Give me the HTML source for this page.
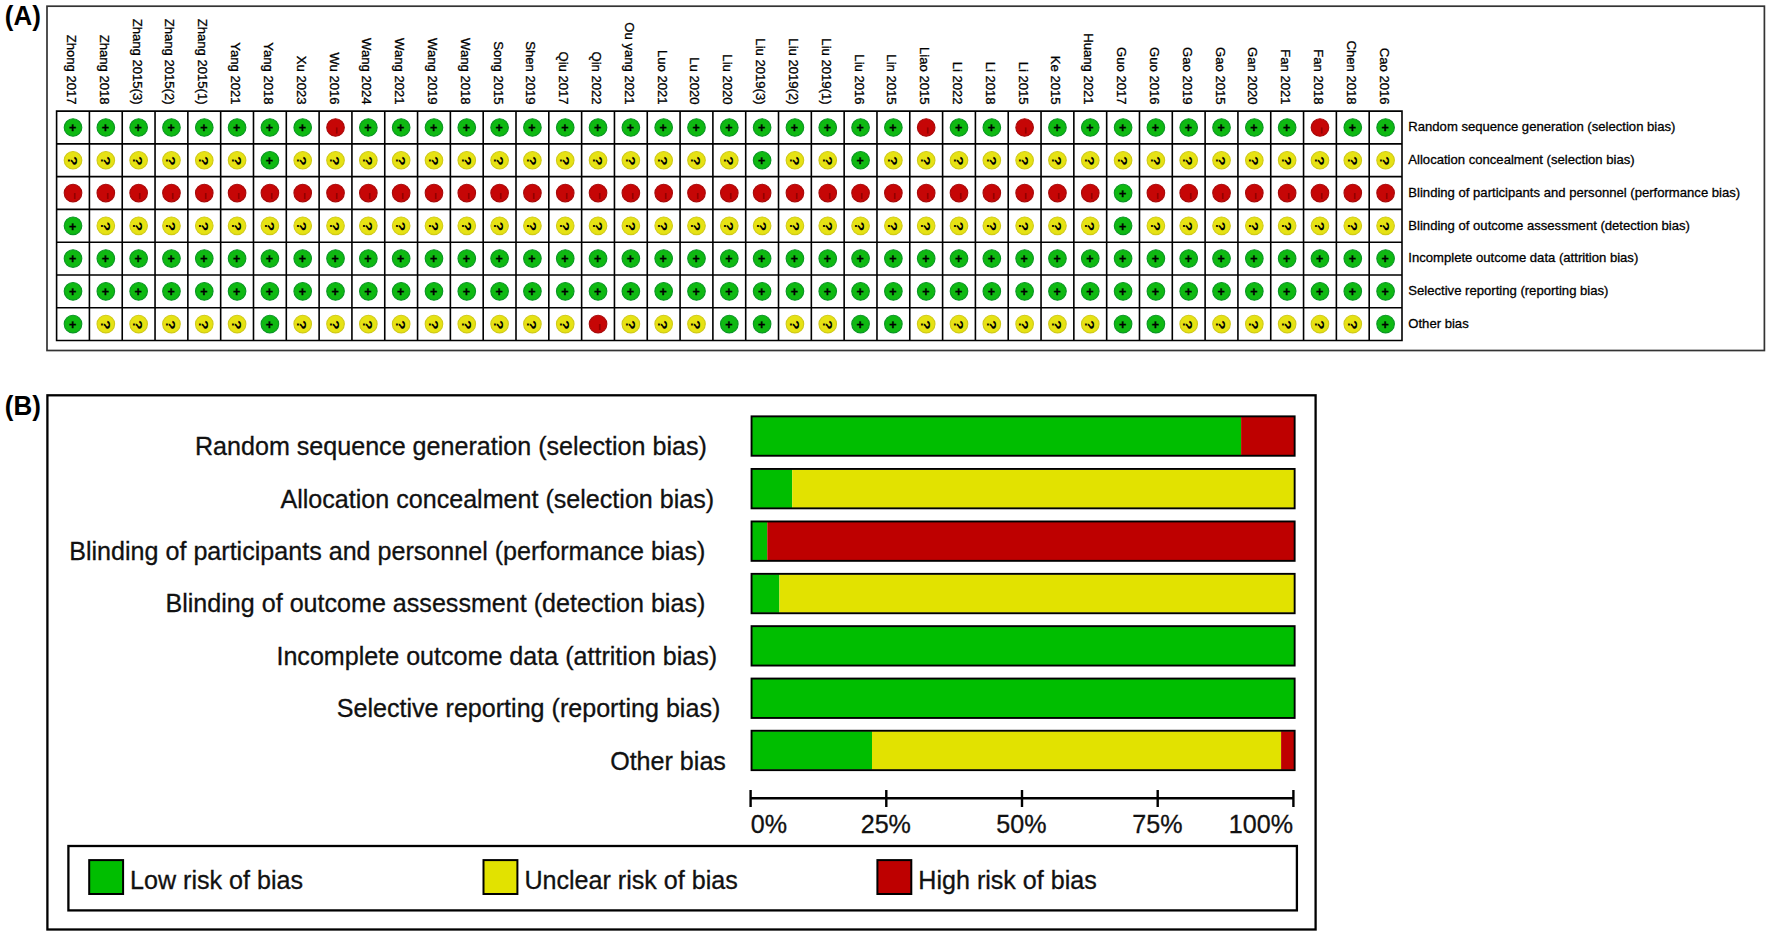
<!DOCTYPE html>
<html lang="en"><head><meta charset="utf-8"><title>Risk of bias</title>
<style>
html,body{margin:0;padding:0;background:#fff;}
body{width:1772px;height:937px;overflow:hidden;}
svg{display:block;font-family:'Liberation Sans', Arial, Helvetica, sans-serif;}
.s{font-size:13.1px;fill:#000;stroke:#000;stroke-width:0.3px;}
.d{font-size:13.1px;fill:#000;stroke:#000;stroke-width:0.3px;}
.pl{font-size:27.1px;font-weight:bold;fill:#000;}
.b{font-size:25.1px;fill:#111;stroke:#111;stroke-width:0.3px;}
.m{font-size:10px;font-weight:normal;fill:#8c0000;stroke:#8c0000;stroke-width:0.5px;}
.sym{font-size:14px;font-weight:bold;fill:#000;stroke:#000;stroke-width:0.15px;text-anchor:middle;}
.p{font-size:12.5px;stroke-width:0.3px;}
.q{font-size:13.5px;stroke-width:0;}
</style></head><body>
<svg width="1772" height="937" viewBox="0 0 1772 937">
<rect x="0" y="0" width="1772" height="937" fill="#fff"/>
<text class="pl" x="4.8" y="24.9" textLength="36.1" lengthAdjust="spacingAndGlyphs">(A)</text>
<text class="pl" x="4.8" y="414.7" textLength="36.1" lengthAdjust="spacingAndGlyphs">(B)</text>
<rect x="47.0" y="6.2" width="1717.4" height="344.3" fill="none" stroke="#333" stroke-width="1.7"/>
<g class="s">
<text transform="translate(67.01,104.6) rotate(90)" text-anchor="end">Zhong 2017</text>
<text transform="translate(99.82,104.6) rotate(90)" text-anchor="end">Zhang 2018</text>
<text transform="translate(132.64,104.6) rotate(90)" text-anchor="end">Zhang 2015(3)</text>
<text transform="translate(165.45,104.6) rotate(90)" text-anchor="end">Zhang 2015(2)</text>
<text transform="translate(198.27,104.6) rotate(90)" text-anchor="end">Zhang 2015(1)</text>
<text transform="translate(231.08,104.6) rotate(90)" text-anchor="end">Yang 2021</text>
<text transform="translate(263.90,104.6) rotate(90)" text-anchor="end">Yang 2018</text>
<text transform="translate(296.71,104.6) rotate(90)" text-anchor="end">Xu 2023</text>
<text transform="translate(329.52,104.6) rotate(90)" text-anchor="end">Wu 2016</text>
<text transform="translate(362.34,104.6) rotate(90)" text-anchor="end">Wang 2024</text>
<text transform="translate(395.15,104.6) rotate(90)" text-anchor="end">Wang 2021</text>
<text transform="translate(427.97,104.6) rotate(90)" text-anchor="end">Wang 2019</text>
<text transform="translate(460.78,104.6) rotate(90)" text-anchor="end">Wang 2018</text>
<text transform="translate(493.60,104.6) rotate(90)" text-anchor="end">Song 2015</text>
<text transform="translate(526.41,104.6) rotate(90)" text-anchor="end">Shen 2019</text>
<text transform="translate(559.23,104.6) rotate(90)" text-anchor="end">Qiu 2017</text>
<text transform="translate(592.04,104.6) rotate(90)" text-anchor="end">Qin 2022</text>
<text transform="translate(624.86,104.6) rotate(90)" text-anchor="end">Ou yang 2021</text>
<text transform="translate(657.67,104.6) rotate(90)" text-anchor="end">Luo 2021</text>
<text transform="translate(690.49,104.6) rotate(90)" text-anchor="end">Lu 2020</text>
<text transform="translate(723.30,104.6) rotate(90)" text-anchor="end">Liu 2020</text>
<text transform="translate(756.11,104.6) rotate(90)" text-anchor="end">Liu 2019(3)</text>
<text transform="translate(788.93,104.6) rotate(90)" text-anchor="end">Liu 2019(2)</text>
<text transform="translate(821.74,104.6) rotate(90)" text-anchor="end">Liu 2019(1)</text>
<text transform="translate(854.56,104.6) rotate(90)" text-anchor="end">Liu 2016</text>
<text transform="translate(887.37,104.6) rotate(90)" text-anchor="end">Lin 2015</text>
<text transform="translate(920.19,104.6) rotate(90)" text-anchor="end">Liao 2015</text>
<text transform="translate(953.00,104.6) rotate(90)" text-anchor="end">Li 2022</text>
<text transform="translate(985.82,104.6) rotate(90)" text-anchor="end">Li 2018</text>
<text transform="translate(1018.63,104.6) rotate(90)" text-anchor="end">Li 2015</text>
<text transform="translate(1051.45,104.6) rotate(90)" text-anchor="end">Ke 2015</text>
<text transform="translate(1084.26,104.6) rotate(90)" text-anchor="end">Huang 2021</text>
<text transform="translate(1117.08,104.6) rotate(90)" text-anchor="end">Guo 2017</text>
<text transform="translate(1149.89,104.6) rotate(90)" text-anchor="end">Guo 2016</text>
<text transform="translate(1182.70,104.6) rotate(90)" text-anchor="end">Gao 2019</text>
<text transform="translate(1215.52,104.6) rotate(90)" text-anchor="end">Gao 2015</text>
<text transform="translate(1248.33,104.6) rotate(90)" text-anchor="end">Gan 2020</text>
<text transform="translate(1281.15,104.6) rotate(90)" text-anchor="end">Fan 2021</text>
<text transform="translate(1313.96,104.6) rotate(90)" text-anchor="end">Fan 2018</text>
<text transform="translate(1346.78,104.6) rotate(90)" text-anchor="end">Chen 2018</text>
<text transform="translate(1379.59,104.6) rotate(90)" text-anchor="end">Cao 2016</text>
</g>
<g>
<circle cx="73.01" cy="127.49" r="8.8" fill="#0fb912" stroke="#0a9624" stroke-width="1.1"/>
<circle cx="105.82" cy="127.49" r="8.8" fill="#0fb912" stroke="#0a9624" stroke-width="1.1"/>
<circle cx="138.64" cy="127.49" r="8.8" fill="#0fb912" stroke="#0a9624" stroke-width="1.1"/>
<circle cx="171.45" cy="127.49" r="8.8" fill="#0fb912" stroke="#0a9624" stroke-width="1.1"/>
<circle cx="204.27" cy="127.49" r="8.8" fill="#0fb912" stroke="#0a9624" stroke-width="1.1"/>
<circle cx="237.08" cy="127.49" r="8.8" fill="#0fb912" stroke="#0a9624" stroke-width="1.1"/>
<circle cx="269.90" cy="127.49" r="8.8" fill="#0fb912" stroke="#0a9624" stroke-width="1.1"/>
<circle cx="302.71" cy="127.49" r="8.8" fill="#0fb912" stroke="#0a9624" stroke-width="1.1"/>
<circle cx="335.52" cy="127.49" r="8.8" fill="#c60606" stroke="#a80a0a" stroke-width="1.1"/>
<circle cx="368.34" cy="127.49" r="8.8" fill="#0fb912" stroke="#0a9624" stroke-width="1.1"/>
<circle cx="401.15" cy="127.49" r="8.8" fill="#0fb912" stroke="#0a9624" stroke-width="1.1"/>
<circle cx="433.97" cy="127.49" r="8.8" fill="#0fb912" stroke="#0a9624" stroke-width="1.1"/>
<circle cx="466.78" cy="127.49" r="8.8" fill="#0fb912" stroke="#0a9624" stroke-width="1.1"/>
<circle cx="499.60" cy="127.49" r="8.8" fill="#0fb912" stroke="#0a9624" stroke-width="1.1"/>
<circle cx="532.41" cy="127.49" r="8.8" fill="#0fb912" stroke="#0a9624" stroke-width="1.1"/>
<circle cx="565.23" cy="127.49" r="8.8" fill="#0fb912" stroke="#0a9624" stroke-width="1.1"/>
<circle cx="598.04" cy="127.49" r="8.8" fill="#0fb912" stroke="#0a9624" stroke-width="1.1"/>
<circle cx="630.86" cy="127.49" r="8.8" fill="#0fb912" stroke="#0a9624" stroke-width="1.1"/>
<circle cx="663.67" cy="127.49" r="8.8" fill="#0fb912" stroke="#0a9624" stroke-width="1.1"/>
<circle cx="696.49" cy="127.49" r="8.8" fill="#0fb912" stroke="#0a9624" stroke-width="1.1"/>
<circle cx="729.30" cy="127.49" r="8.8" fill="#0fb912" stroke="#0a9624" stroke-width="1.1"/>
<circle cx="762.11" cy="127.49" r="8.8" fill="#0fb912" stroke="#0a9624" stroke-width="1.1"/>
<circle cx="794.93" cy="127.49" r="8.8" fill="#0fb912" stroke="#0a9624" stroke-width="1.1"/>
<circle cx="827.74" cy="127.49" r="8.8" fill="#0fb912" stroke="#0a9624" stroke-width="1.1"/>
<circle cx="860.56" cy="127.49" r="8.8" fill="#0fb912" stroke="#0a9624" stroke-width="1.1"/>
<circle cx="893.37" cy="127.49" r="8.8" fill="#0fb912" stroke="#0a9624" stroke-width="1.1"/>
<circle cx="926.19" cy="127.49" r="8.8" fill="#c60606" stroke="#a80a0a" stroke-width="1.1"/>
<circle cx="959.00" cy="127.49" r="8.8" fill="#0fb912" stroke="#0a9624" stroke-width="1.1"/>
<circle cx="991.82" cy="127.49" r="8.8" fill="#0fb912" stroke="#0a9624" stroke-width="1.1"/>
<circle cx="1024.63" cy="127.49" r="8.8" fill="#c60606" stroke="#a80a0a" stroke-width="1.1"/>
<circle cx="1057.45" cy="127.49" r="8.8" fill="#0fb912" stroke="#0a9624" stroke-width="1.1"/>
<circle cx="1090.26" cy="127.49" r="8.8" fill="#0fb912" stroke="#0a9624" stroke-width="1.1"/>
<circle cx="1123.08" cy="127.49" r="8.8" fill="#0fb912" stroke="#0a9624" stroke-width="1.1"/>
<circle cx="1155.89" cy="127.49" r="8.8" fill="#0fb912" stroke="#0a9624" stroke-width="1.1"/>
<circle cx="1188.70" cy="127.49" r="8.8" fill="#0fb912" stroke="#0a9624" stroke-width="1.1"/>
<circle cx="1221.52" cy="127.49" r="8.8" fill="#0fb912" stroke="#0a9624" stroke-width="1.1"/>
<circle cx="1254.33" cy="127.49" r="8.8" fill="#0fb912" stroke="#0a9624" stroke-width="1.1"/>
<circle cx="1287.15" cy="127.49" r="8.8" fill="#0fb912" stroke="#0a9624" stroke-width="1.1"/>
<circle cx="1319.96" cy="127.49" r="8.8" fill="#c60606" stroke="#a80a0a" stroke-width="1.1"/>
<circle cx="1352.78" cy="127.49" r="8.8" fill="#0fb912" stroke="#0a9624" stroke-width="1.1"/>
<circle cx="1385.59" cy="127.49" r="8.8" fill="#0fb912" stroke="#0a9624" stroke-width="1.1"/>
<circle cx="73.01" cy="160.26" r="8.8" fill="#e6e214" stroke="#d0ca18" stroke-width="1.1"/>
<circle cx="105.82" cy="160.26" r="8.8" fill="#e6e214" stroke="#d0ca18" stroke-width="1.1"/>
<circle cx="138.64" cy="160.26" r="8.8" fill="#e6e214" stroke="#d0ca18" stroke-width="1.1"/>
<circle cx="171.45" cy="160.26" r="8.8" fill="#e6e214" stroke="#d0ca18" stroke-width="1.1"/>
<circle cx="204.27" cy="160.26" r="8.8" fill="#e6e214" stroke="#d0ca18" stroke-width="1.1"/>
<circle cx="237.08" cy="160.26" r="8.8" fill="#e6e214" stroke="#d0ca18" stroke-width="1.1"/>
<circle cx="269.90" cy="160.26" r="8.8" fill="#0fb912" stroke="#0a9624" stroke-width="1.1"/>
<circle cx="302.71" cy="160.26" r="8.8" fill="#e6e214" stroke="#d0ca18" stroke-width="1.1"/>
<circle cx="335.52" cy="160.26" r="8.8" fill="#e6e214" stroke="#d0ca18" stroke-width="1.1"/>
<circle cx="368.34" cy="160.26" r="8.8" fill="#e6e214" stroke="#d0ca18" stroke-width="1.1"/>
<circle cx="401.15" cy="160.26" r="8.8" fill="#e6e214" stroke="#d0ca18" stroke-width="1.1"/>
<circle cx="433.97" cy="160.26" r="8.8" fill="#e6e214" stroke="#d0ca18" stroke-width="1.1"/>
<circle cx="466.78" cy="160.26" r="8.8" fill="#e6e214" stroke="#d0ca18" stroke-width="1.1"/>
<circle cx="499.60" cy="160.26" r="8.8" fill="#e6e214" stroke="#d0ca18" stroke-width="1.1"/>
<circle cx="532.41" cy="160.26" r="8.8" fill="#e6e214" stroke="#d0ca18" stroke-width="1.1"/>
<circle cx="565.23" cy="160.26" r="8.8" fill="#e6e214" stroke="#d0ca18" stroke-width="1.1"/>
<circle cx="598.04" cy="160.26" r="8.8" fill="#e6e214" stroke="#d0ca18" stroke-width="1.1"/>
<circle cx="630.86" cy="160.26" r="8.8" fill="#e6e214" stroke="#d0ca18" stroke-width="1.1"/>
<circle cx="663.67" cy="160.26" r="8.8" fill="#e6e214" stroke="#d0ca18" stroke-width="1.1"/>
<circle cx="696.49" cy="160.26" r="8.8" fill="#e6e214" stroke="#d0ca18" stroke-width="1.1"/>
<circle cx="729.30" cy="160.26" r="8.8" fill="#e6e214" stroke="#d0ca18" stroke-width="1.1"/>
<circle cx="762.11" cy="160.26" r="8.8" fill="#0fb912" stroke="#0a9624" stroke-width="1.1"/>
<circle cx="794.93" cy="160.26" r="8.8" fill="#e6e214" stroke="#d0ca18" stroke-width="1.1"/>
<circle cx="827.74" cy="160.26" r="8.8" fill="#e6e214" stroke="#d0ca18" stroke-width="1.1"/>
<circle cx="860.56" cy="160.26" r="8.8" fill="#0fb912" stroke="#0a9624" stroke-width="1.1"/>
<circle cx="893.37" cy="160.26" r="8.8" fill="#e6e214" stroke="#d0ca18" stroke-width="1.1"/>
<circle cx="926.19" cy="160.26" r="8.8" fill="#e6e214" stroke="#d0ca18" stroke-width="1.1"/>
<circle cx="959.00" cy="160.26" r="8.8" fill="#e6e214" stroke="#d0ca18" stroke-width="1.1"/>
<circle cx="991.82" cy="160.26" r="8.8" fill="#e6e214" stroke="#d0ca18" stroke-width="1.1"/>
<circle cx="1024.63" cy="160.26" r="8.8" fill="#e6e214" stroke="#d0ca18" stroke-width="1.1"/>
<circle cx="1057.45" cy="160.26" r="8.8" fill="#e6e214" stroke="#d0ca18" stroke-width="1.1"/>
<circle cx="1090.26" cy="160.26" r="8.8" fill="#e6e214" stroke="#d0ca18" stroke-width="1.1"/>
<circle cx="1123.08" cy="160.26" r="8.8" fill="#e6e214" stroke="#d0ca18" stroke-width="1.1"/>
<circle cx="1155.89" cy="160.26" r="8.8" fill="#e6e214" stroke="#d0ca18" stroke-width="1.1"/>
<circle cx="1188.70" cy="160.26" r="8.8" fill="#e6e214" stroke="#d0ca18" stroke-width="1.1"/>
<circle cx="1221.52" cy="160.26" r="8.8" fill="#e6e214" stroke="#d0ca18" stroke-width="1.1"/>
<circle cx="1254.33" cy="160.26" r="8.8" fill="#e6e214" stroke="#d0ca18" stroke-width="1.1"/>
<circle cx="1287.15" cy="160.26" r="8.8" fill="#e6e214" stroke="#d0ca18" stroke-width="1.1"/>
<circle cx="1319.96" cy="160.26" r="8.8" fill="#e6e214" stroke="#d0ca18" stroke-width="1.1"/>
<circle cx="1352.78" cy="160.26" r="8.8" fill="#e6e214" stroke="#d0ca18" stroke-width="1.1"/>
<circle cx="1385.59" cy="160.26" r="8.8" fill="#e6e214" stroke="#d0ca18" stroke-width="1.1"/>
<circle cx="73.01" cy="193.03" r="8.8" fill="#c60606" stroke="#a80a0a" stroke-width="1.1"/>
<circle cx="105.82" cy="193.03" r="8.8" fill="#c60606" stroke="#a80a0a" stroke-width="1.1"/>
<circle cx="138.64" cy="193.03" r="8.8" fill="#c60606" stroke="#a80a0a" stroke-width="1.1"/>
<circle cx="171.45" cy="193.03" r="8.8" fill="#c60606" stroke="#a80a0a" stroke-width="1.1"/>
<circle cx="204.27" cy="193.03" r="8.8" fill="#c60606" stroke="#a80a0a" stroke-width="1.1"/>
<circle cx="237.08" cy="193.03" r="8.8" fill="#c60606" stroke="#a80a0a" stroke-width="1.1"/>
<circle cx="269.90" cy="193.03" r="8.8" fill="#c60606" stroke="#a80a0a" stroke-width="1.1"/>
<circle cx="302.71" cy="193.03" r="8.8" fill="#c60606" stroke="#a80a0a" stroke-width="1.1"/>
<circle cx="335.52" cy="193.03" r="8.8" fill="#c60606" stroke="#a80a0a" stroke-width="1.1"/>
<circle cx="368.34" cy="193.03" r="8.8" fill="#c60606" stroke="#a80a0a" stroke-width="1.1"/>
<circle cx="401.15" cy="193.03" r="8.8" fill="#c60606" stroke="#a80a0a" stroke-width="1.1"/>
<circle cx="433.97" cy="193.03" r="8.8" fill="#c60606" stroke="#a80a0a" stroke-width="1.1"/>
<circle cx="466.78" cy="193.03" r="8.8" fill="#c60606" stroke="#a80a0a" stroke-width="1.1"/>
<circle cx="499.60" cy="193.03" r="8.8" fill="#c60606" stroke="#a80a0a" stroke-width="1.1"/>
<circle cx="532.41" cy="193.03" r="8.8" fill="#c60606" stroke="#a80a0a" stroke-width="1.1"/>
<circle cx="565.23" cy="193.03" r="8.8" fill="#c60606" stroke="#a80a0a" stroke-width="1.1"/>
<circle cx="598.04" cy="193.03" r="8.8" fill="#c60606" stroke="#a80a0a" stroke-width="1.1"/>
<circle cx="630.86" cy="193.03" r="8.8" fill="#c60606" stroke="#a80a0a" stroke-width="1.1"/>
<circle cx="663.67" cy="193.03" r="8.8" fill="#c60606" stroke="#a80a0a" stroke-width="1.1"/>
<circle cx="696.49" cy="193.03" r="8.8" fill="#c60606" stroke="#a80a0a" stroke-width="1.1"/>
<circle cx="729.30" cy="193.03" r="8.8" fill="#c60606" stroke="#a80a0a" stroke-width="1.1"/>
<circle cx="762.11" cy="193.03" r="8.8" fill="#c60606" stroke="#a80a0a" stroke-width="1.1"/>
<circle cx="794.93" cy="193.03" r="8.8" fill="#c60606" stroke="#a80a0a" stroke-width="1.1"/>
<circle cx="827.74" cy="193.03" r="8.8" fill="#c60606" stroke="#a80a0a" stroke-width="1.1"/>
<circle cx="860.56" cy="193.03" r="8.8" fill="#c60606" stroke="#a80a0a" stroke-width="1.1"/>
<circle cx="893.37" cy="193.03" r="8.8" fill="#c60606" stroke="#a80a0a" stroke-width="1.1"/>
<circle cx="926.19" cy="193.03" r="8.8" fill="#c60606" stroke="#a80a0a" stroke-width="1.1"/>
<circle cx="959.00" cy="193.03" r="8.8" fill="#c60606" stroke="#a80a0a" stroke-width="1.1"/>
<circle cx="991.82" cy="193.03" r="8.8" fill="#c60606" stroke="#a80a0a" stroke-width="1.1"/>
<circle cx="1024.63" cy="193.03" r="8.8" fill="#c60606" stroke="#a80a0a" stroke-width="1.1"/>
<circle cx="1057.45" cy="193.03" r="8.8" fill="#c60606" stroke="#a80a0a" stroke-width="1.1"/>
<circle cx="1090.26" cy="193.03" r="8.8" fill="#c60606" stroke="#a80a0a" stroke-width="1.1"/>
<circle cx="1123.08" cy="193.03" r="8.8" fill="#0fb912" stroke="#0a9624" stroke-width="1.1"/>
<circle cx="1155.89" cy="193.03" r="8.8" fill="#c60606" stroke="#a80a0a" stroke-width="1.1"/>
<circle cx="1188.70" cy="193.03" r="8.8" fill="#c60606" stroke="#a80a0a" stroke-width="1.1"/>
<circle cx="1221.52" cy="193.03" r="8.8" fill="#c60606" stroke="#a80a0a" stroke-width="1.1"/>
<circle cx="1254.33" cy="193.03" r="8.8" fill="#c60606" stroke="#a80a0a" stroke-width="1.1"/>
<circle cx="1287.15" cy="193.03" r="8.8" fill="#c60606" stroke="#a80a0a" stroke-width="1.1"/>
<circle cx="1319.96" cy="193.03" r="8.8" fill="#c60606" stroke="#a80a0a" stroke-width="1.1"/>
<circle cx="1352.78" cy="193.03" r="8.8" fill="#c60606" stroke="#a80a0a" stroke-width="1.1"/>
<circle cx="1385.59" cy="193.03" r="8.8" fill="#c60606" stroke="#a80a0a" stroke-width="1.1"/>
<circle cx="73.01" cy="225.80" r="8.8" fill="#0fb912" stroke="#0a9624" stroke-width="1.1"/>
<circle cx="105.82" cy="225.80" r="8.8" fill="#e6e214" stroke="#d0ca18" stroke-width="1.1"/>
<circle cx="138.64" cy="225.80" r="8.8" fill="#e6e214" stroke="#d0ca18" stroke-width="1.1"/>
<circle cx="171.45" cy="225.80" r="8.8" fill="#e6e214" stroke="#d0ca18" stroke-width="1.1"/>
<circle cx="204.27" cy="225.80" r="8.8" fill="#e6e214" stroke="#d0ca18" stroke-width="1.1"/>
<circle cx="237.08" cy="225.80" r="8.8" fill="#e6e214" stroke="#d0ca18" stroke-width="1.1"/>
<circle cx="269.90" cy="225.80" r="8.8" fill="#e6e214" stroke="#d0ca18" stroke-width="1.1"/>
<circle cx="302.71" cy="225.80" r="8.8" fill="#e6e214" stroke="#d0ca18" stroke-width="1.1"/>
<circle cx="335.52" cy="225.80" r="8.8" fill="#e6e214" stroke="#d0ca18" stroke-width="1.1"/>
<circle cx="368.34" cy="225.80" r="8.8" fill="#e6e214" stroke="#d0ca18" stroke-width="1.1"/>
<circle cx="401.15" cy="225.80" r="8.8" fill="#e6e214" stroke="#d0ca18" stroke-width="1.1"/>
<circle cx="433.97" cy="225.80" r="8.8" fill="#e6e214" stroke="#d0ca18" stroke-width="1.1"/>
<circle cx="466.78" cy="225.80" r="8.8" fill="#e6e214" stroke="#d0ca18" stroke-width="1.1"/>
<circle cx="499.60" cy="225.80" r="8.8" fill="#e6e214" stroke="#d0ca18" stroke-width="1.1"/>
<circle cx="532.41" cy="225.80" r="8.8" fill="#e6e214" stroke="#d0ca18" stroke-width="1.1"/>
<circle cx="565.23" cy="225.80" r="8.8" fill="#e6e214" stroke="#d0ca18" stroke-width="1.1"/>
<circle cx="598.04" cy="225.80" r="8.8" fill="#e6e214" stroke="#d0ca18" stroke-width="1.1"/>
<circle cx="630.86" cy="225.80" r="8.8" fill="#e6e214" stroke="#d0ca18" stroke-width="1.1"/>
<circle cx="663.67" cy="225.80" r="8.8" fill="#e6e214" stroke="#d0ca18" stroke-width="1.1"/>
<circle cx="696.49" cy="225.80" r="8.8" fill="#e6e214" stroke="#d0ca18" stroke-width="1.1"/>
<circle cx="729.30" cy="225.80" r="8.8" fill="#e6e214" stroke="#d0ca18" stroke-width="1.1"/>
<circle cx="762.11" cy="225.80" r="8.8" fill="#e6e214" stroke="#d0ca18" stroke-width="1.1"/>
<circle cx="794.93" cy="225.80" r="8.8" fill="#e6e214" stroke="#d0ca18" stroke-width="1.1"/>
<circle cx="827.74" cy="225.80" r="8.8" fill="#e6e214" stroke="#d0ca18" stroke-width="1.1"/>
<circle cx="860.56" cy="225.80" r="8.8" fill="#e6e214" stroke="#d0ca18" stroke-width="1.1"/>
<circle cx="893.37" cy="225.80" r="8.8" fill="#e6e214" stroke="#d0ca18" stroke-width="1.1"/>
<circle cx="926.19" cy="225.80" r="8.8" fill="#e6e214" stroke="#d0ca18" stroke-width="1.1"/>
<circle cx="959.00" cy="225.80" r="8.8" fill="#e6e214" stroke="#d0ca18" stroke-width="1.1"/>
<circle cx="991.82" cy="225.80" r="8.8" fill="#e6e214" stroke="#d0ca18" stroke-width="1.1"/>
<circle cx="1024.63" cy="225.80" r="8.8" fill="#e6e214" stroke="#d0ca18" stroke-width="1.1"/>
<circle cx="1057.45" cy="225.80" r="8.8" fill="#e6e214" stroke="#d0ca18" stroke-width="1.1"/>
<circle cx="1090.26" cy="225.80" r="8.8" fill="#e6e214" stroke="#d0ca18" stroke-width="1.1"/>
<circle cx="1123.08" cy="225.80" r="8.8" fill="#0fb912" stroke="#0a9624" stroke-width="1.1"/>
<circle cx="1155.89" cy="225.80" r="8.8" fill="#e6e214" stroke="#d0ca18" stroke-width="1.1"/>
<circle cx="1188.70" cy="225.80" r="8.8" fill="#e6e214" stroke="#d0ca18" stroke-width="1.1"/>
<circle cx="1221.52" cy="225.80" r="8.8" fill="#e6e214" stroke="#d0ca18" stroke-width="1.1"/>
<circle cx="1254.33" cy="225.80" r="8.8" fill="#e6e214" stroke="#d0ca18" stroke-width="1.1"/>
<circle cx="1287.15" cy="225.80" r="8.8" fill="#e6e214" stroke="#d0ca18" stroke-width="1.1"/>
<circle cx="1319.96" cy="225.80" r="8.8" fill="#e6e214" stroke="#d0ca18" stroke-width="1.1"/>
<circle cx="1352.78" cy="225.80" r="8.8" fill="#e6e214" stroke="#d0ca18" stroke-width="1.1"/>
<circle cx="1385.59" cy="225.80" r="8.8" fill="#e6e214" stroke="#d0ca18" stroke-width="1.1"/>
<circle cx="73.01" cy="258.57" r="8.8" fill="#0fb912" stroke="#0a9624" stroke-width="1.1"/>
<circle cx="105.82" cy="258.57" r="8.8" fill="#0fb912" stroke="#0a9624" stroke-width="1.1"/>
<circle cx="138.64" cy="258.57" r="8.8" fill="#0fb912" stroke="#0a9624" stroke-width="1.1"/>
<circle cx="171.45" cy="258.57" r="8.8" fill="#0fb912" stroke="#0a9624" stroke-width="1.1"/>
<circle cx="204.27" cy="258.57" r="8.8" fill="#0fb912" stroke="#0a9624" stroke-width="1.1"/>
<circle cx="237.08" cy="258.57" r="8.8" fill="#0fb912" stroke="#0a9624" stroke-width="1.1"/>
<circle cx="269.90" cy="258.57" r="8.8" fill="#0fb912" stroke="#0a9624" stroke-width="1.1"/>
<circle cx="302.71" cy="258.57" r="8.8" fill="#0fb912" stroke="#0a9624" stroke-width="1.1"/>
<circle cx="335.52" cy="258.57" r="8.8" fill="#0fb912" stroke="#0a9624" stroke-width="1.1"/>
<circle cx="368.34" cy="258.57" r="8.8" fill="#0fb912" stroke="#0a9624" stroke-width="1.1"/>
<circle cx="401.15" cy="258.57" r="8.8" fill="#0fb912" stroke="#0a9624" stroke-width="1.1"/>
<circle cx="433.97" cy="258.57" r="8.8" fill="#0fb912" stroke="#0a9624" stroke-width="1.1"/>
<circle cx="466.78" cy="258.57" r="8.8" fill="#0fb912" stroke="#0a9624" stroke-width="1.1"/>
<circle cx="499.60" cy="258.57" r="8.8" fill="#0fb912" stroke="#0a9624" stroke-width="1.1"/>
<circle cx="532.41" cy="258.57" r="8.8" fill="#0fb912" stroke="#0a9624" stroke-width="1.1"/>
<circle cx="565.23" cy="258.57" r="8.8" fill="#0fb912" stroke="#0a9624" stroke-width="1.1"/>
<circle cx="598.04" cy="258.57" r="8.8" fill="#0fb912" stroke="#0a9624" stroke-width="1.1"/>
<circle cx="630.86" cy="258.57" r="8.8" fill="#0fb912" stroke="#0a9624" stroke-width="1.1"/>
<circle cx="663.67" cy="258.57" r="8.8" fill="#0fb912" stroke="#0a9624" stroke-width="1.1"/>
<circle cx="696.49" cy="258.57" r="8.8" fill="#0fb912" stroke="#0a9624" stroke-width="1.1"/>
<circle cx="729.30" cy="258.57" r="8.8" fill="#0fb912" stroke="#0a9624" stroke-width="1.1"/>
<circle cx="762.11" cy="258.57" r="8.8" fill="#0fb912" stroke="#0a9624" stroke-width="1.1"/>
<circle cx="794.93" cy="258.57" r="8.8" fill="#0fb912" stroke="#0a9624" stroke-width="1.1"/>
<circle cx="827.74" cy="258.57" r="8.8" fill="#0fb912" stroke="#0a9624" stroke-width="1.1"/>
<circle cx="860.56" cy="258.57" r="8.8" fill="#0fb912" stroke="#0a9624" stroke-width="1.1"/>
<circle cx="893.37" cy="258.57" r="8.8" fill="#0fb912" stroke="#0a9624" stroke-width="1.1"/>
<circle cx="926.19" cy="258.57" r="8.8" fill="#0fb912" stroke="#0a9624" stroke-width="1.1"/>
<circle cx="959.00" cy="258.57" r="8.8" fill="#0fb912" stroke="#0a9624" stroke-width="1.1"/>
<circle cx="991.82" cy="258.57" r="8.8" fill="#0fb912" stroke="#0a9624" stroke-width="1.1"/>
<circle cx="1024.63" cy="258.57" r="8.8" fill="#0fb912" stroke="#0a9624" stroke-width="1.1"/>
<circle cx="1057.45" cy="258.57" r="8.8" fill="#0fb912" stroke="#0a9624" stroke-width="1.1"/>
<circle cx="1090.26" cy="258.57" r="8.8" fill="#0fb912" stroke="#0a9624" stroke-width="1.1"/>
<circle cx="1123.08" cy="258.57" r="8.8" fill="#0fb912" stroke="#0a9624" stroke-width="1.1"/>
<circle cx="1155.89" cy="258.57" r="8.8" fill="#0fb912" stroke="#0a9624" stroke-width="1.1"/>
<circle cx="1188.70" cy="258.57" r="8.8" fill="#0fb912" stroke="#0a9624" stroke-width="1.1"/>
<circle cx="1221.52" cy="258.57" r="8.8" fill="#0fb912" stroke="#0a9624" stroke-width="1.1"/>
<circle cx="1254.33" cy="258.57" r="8.8" fill="#0fb912" stroke="#0a9624" stroke-width="1.1"/>
<circle cx="1287.15" cy="258.57" r="8.8" fill="#0fb912" stroke="#0a9624" stroke-width="1.1"/>
<circle cx="1319.96" cy="258.57" r="8.8" fill="#0fb912" stroke="#0a9624" stroke-width="1.1"/>
<circle cx="1352.78" cy="258.57" r="8.8" fill="#0fb912" stroke="#0a9624" stroke-width="1.1"/>
<circle cx="1385.59" cy="258.57" r="8.8" fill="#0fb912" stroke="#0a9624" stroke-width="1.1"/>
<circle cx="73.01" cy="291.34" r="8.8" fill="#0fb912" stroke="#0a9624" stroke-width="1.1"/>
<circle cx="105.82" cy="291.34" r="8.8" fill="#0fb912" stroke="#0a9624" stroke-width="1.1"/>
<circle cx="138.64" cy="291.34" r="8.8" fill="#0fb912" stroke="#0a9624" stroke-width="1.1"/>
<circle cx="171.45" cy="291.34" r="8.8" fill="#0fb912" stroke="#0a9624" stroke-width="1.1"/>
<circle cx="204.27" cy="291.34" r="8.8" fill="#0fb912" stroke="#0a9624" stroke-width="1.1"/>
<circle cx="237.08" cy="291.34" r="8.8" fill="#0fb912" stroke="#0a9624" stroke-width="1.1"/>
<circle cx="269.90" cy="291.34" r="8.8" fill="#0fb912" stroke="#0a9624" stroke-width="1.1"/>
<circle cx="302.71" cy="291.34" r="8.8" fill="#0fb912" stroke="#0a9624" stroke-width="1.1"/>
<circle cx="335.52" cy="291.34" r="8.8" fill="#0fb912" stroke="#0a9624" stroke-width="1.1"/>
<circle cx="368.34" cy="291.34" r="8.8" fill="#0fb912" stroke="#0a9624" stroke-width="1.1"/>
<circle cx="401.15" cy="291.34" r="8.8" fill="#0fb912" stroke="#0a9624" stroke-width="1.1"/>
<circle cx="433.97" cy="291.34" r="8.8" fill="#0fb912" stroke="#0a9624" stroke-width="1.1"/>
<circle cx="466.78" cy="291.34" r="8.8" fill="#0fb912" stroke="#0a9624" stroke-width="1.1"/>
<circle cx="499.60" cy="291.34" r="8.8" fill="#0fb912" stroke="#0a9624" stroke-width="1.1"/>
<circle cx="532.41" cy="291.34" r="8.8" fill="#0fb912" stroke="#0a9624" stroke-width="1.1"/>
<circle cx="565.23" cy="291.34" r="8.8" fill="#0fb912" stroke="#0a9624" stroke-width="1.1"/>
<circle cx="598.04" cy="291.34" r="8.8" fill="#0fb912" stroke="#0a9624" stroke-width="1.1"/>
<circle cx="630.86" cy="291.34" r="8.8" fill="#0fb912" stroke="#0a9624" stroke-width="1.1"/>
<circle cx="663.67" cy="291.34" r="8.8" fill="#0fb912" stroke="#0a9624" stroke-width="1.1"/>
<circle cx="696.49" cy="291.34" r="8.8" fill="#0fb912" stroke="#0a9624" stroke-width="1.1"/>
<circle cx="729.30" cy="291.34" r="8.8" fill="#0fb912" stroke="#0a9624" stroke-width="1.1"/>
<circle cx="762.11" cy="291.34" r="8.8" fill="#0fb912" stroke="#0a9624" stroke-width="1.1"/>
<circle cx="794.93" cy="291.34" r="8.8" fill="#0fb912" stroke="#0a9624" stroke-width="1.1"/>
<circle cx="827.74" cy="291.34" r="8.8" fill="#0fb912" stroke="#0a9624" stroke-width="1.1"/>
<circle cx="860.56" cy="291.34" r="8.8" fill="#0fb912" stroke="#0a9624" stroke-width="1.1"/>
<circle cx="893.37" cy="291.34" r="8.8" fill="#0fb912" stroke="#0a9624" stroke-width="1.1"/>
<circle cx="926.19" cy="291.34" r="8.8" fill="#0fb912" stroke="#0a9624" stroke-width="1.1"/>
<circle cx="959.00" cy="291.34" r="8.8" fill="#0fb912" stroke="#0a9624" stroke-width="1.1"/>
<circle cx="991.82" cy="291.34" r="8.8" fill="#0fb912" stroke="#0a9624" stroke-width="1.1"/>
<circle cx="1024.63" cy="291.34" r="8.8" fill="#0fb912" stroke="#0a9624" stroke-width="1.1"/>
<circle cx="1057.45" cy="291.34" r="8.8" fill="#0fb912" stroke="#0a9624" stroke-width="1.1"/>
<circle cx="1090.26" cy="291.34" r="8.8" fill="#0fb912" stroke="#0a9624" stroke-width="1.1"/>
<circle cx="1123.08" cy="291.34" r="8.8" fill="#0fb912" stroke="#0a9624" stroke-width="1.1"/>
<circle cx="1155.89" cy="291.34" r="8.8" fill="#0fb912" stroke="#0a9624" stroke-width="1.1"/>
<circle cx="1188.70" cy="291.34" r="8.8" fill="#0fb912" stroke="#0a9624" stroke-width="1.1"/>
<circle cx="1221.52" cy="291.34" r="8.8" fill="#0fb912" stroke="#0a9624" stroke-width="1.1"/>
<circle cx="1254.33" cy="291.34" r="8.8" fill="#0fb912" stroke="#0a9624" stroke-width="1.1"/>
<circle cx="1287.15" cy="291.34" r="8.8" fill="#0fb912" stroke="#0a9624" stroke-width="1.1"/>
<circle cx="1319.96" cy="291.34" r="8.8" fill="#0fb912" stroke="#0a9624" stroke-width="1.1"/>
<circle cx="1352.78" cy="291.34" r="8.8" fill="#0fb912" stroke="#0a9624" stroke-width="1.1"/>
<circle cx="1385.59" cy="291.34" r="8.8" fill="#0fb912" stroke="#0a9624" stroke-width="1.1"/>
<circle cx="73.01" cy="324.11" r="8.8" fill="#0fb912" stroke="#0a9624" stroke-width="1.1"/>
<circle cx="105.82" cy="324.11" r="8.8" fill="#e6e214" stroke="#d0ca18" stroke-width="1.1"/>
<circle cx="138.64" cy="324.11" r="8.8" fill="#e6e214" stroke="#d0ca18" stroke-width="1.1"/>
<circle cx="171.45" cy="324.11" r="8.8" fill="#e6e214" stroke="#d0ca18" stroke-width="1.1"/>
<circle cx="204.27" cy="324.11" r="8.8" fill="#e6e214" stroke="#d0ca18" stroke-width="1.1"/>
<circle cx="237.08" cy="324.11" r="8.8" fill="#e6e214" stroke="#d0ca18" stroke-width="1.1"/>
<circle cx="269.90" cy="324.11" r="8.8" fill="#0fb912" stroke="#0a9624" stroke-width="1.1"/>
<circle cx="302.71" cy="324.11" r="8.8" fill="#e6e214" stroke="#d0ca18" stroke-width="1.1"/>
<circle cx="335.52" cy="324.11" r="8.8" fill="#e6e214" stroke="#d0ca18" stroke-width="1.1"/>
<circle cx="368.34" cy="324.11" r="8.8" fill="#e6e214" stroke="#d0ca18" stroke-width="1.1"/>
<circle cx="401.15" cy="324.11" r="8.8" fill="#e6e214" stroke="#d0ca18" stroke-width="1.1"/>
<circle cx="433.97" cy="324.11" r="8.8" fill="#e6e214" stroke="#d0ca18" stroke-width="1.1"/>
<circle cx="466.78" cy="324.11" r="8.8" fill="#e6e214" stroke="#d0ca18" stroke-width="1.1"/>
<circle cx="499.60" cy="324.11" r="8.8" fill="#e6e214" stroke="#d0ca18" stroke-width="1.1"/>
<circle cx="532.41" cy="324.11" r="8.8" fill="#e6e214" stroke="#d0ca18" stroke-width="1.1"/>
<circle cx="565.23" cy="324.11" r="8.8" fill="#e6e214" stroke="#d0ca18" stroke-width="1.1"/>
<circle cx="598.04" cy="324.11" r="8.8" fill="#c60606" stroke="#a80a0a" stroke-width="1.1"/>
<circle cx="630.86" cy="324.11" r="8.8" fill="#e6e214" stroke="#d0ca18" stroke-width="1.1"/>
<circle cx="663.67" cy="324.11" r="8.8" fill="#e6e214" stroke="#d0ca18" stroke-width="1.1"/>
<circle cx="696.49" cy="324.11" r="8.8" fill="#e6e214" stroke="#d0ca18" stroke-width="1.1"/>
<circle cx="729.30" cy="324.11" r="8.8" fill="#0fb912" stroke="#0a9624" stroke-width="1.1"/>
<circle cx="762.11" cy="324.11" r="8.8" fill="#0fb912" stroke="#0a9624" stroke-width="1.1"/>
<circle cx="794.93" cy="324.11" r="8.8" fill="#e6e214" stroke="#d0ca18" stroke-width="1.1"/>
<circle cx="827.74" cy="324.11" r="8.8" fill="#e6e214" stroke="#d0ca18" stroke-width="1.1"/>
<circle cx="860.56" cy="324.11" r="8.8" fill="#0fb912" stroke="#0a9624" stroke-width="1.1"/>
<circle cx="893.37" cy="324.11" r="8.8" fill="#0fb912" stroke="#0a9624" stroke-width="1.1"/>
<circle cx="926.19" cy="324.11" r="8.8" fill="#e6e214" stroke="#d0ca18" stroke-width="1.1"/>
<circle cx="959.00" cy="324.11" r="8.8" fill="#e6e214" stroke="#d0ca18" stroke-width="1.1"/>
<circle cx="991.82" cy="324.11" r="8.8" fill="#e6e214" stroke="#d0ca18" stroke-width="1.1"/>
<circle cx="1024.63" cy="324.11" r="8.8" fill="#e6e214" stroke="#d0ca18" stroke-width="1.1"/>
<circle cx="1057.45" cy="324.11" r="8.8" fill="#e6e214" stroke="#d0ca18" stroke-width="1.1"/>
<circle cx="1090.26" cy="324.11" r="8.8" fill="#e6e214" stroke="#d0ca18" stroke-width="1.1"/>
<circle cx="1123.08" cy="324.11" r="8.8" fill="#0fb912" stroke="#0a9624" stroke-width="1.1"/>
<circle cx="1155.89" cy="324.11" r="8.8" fill="#0fb912" stroke="#0a9624" stroke-width="1.1"/>
<circle cx="1188.70" cy="324.11" r="8.8" fill="#e6e214" stroke="#d0ca18" stroke-width="1.1"/>
<circle cx="1221.52" cy="324.11" r="8.8" fill="#e6e214" stroke="#d0ca18" stroke-width="1.1"/>
<circle cx="1254.33" cy="324.11" r="8.8" fill="#e6e214" stroke="#d0ca18" stroke-width="1.1"/>
<circle cx="1287.15" cy="324.11" r="8.8" fill="#e6e214" stroke="#d0ca18" stroke-width="1.1"/>
<circle cx="1319.96" cy="324.11" r="8.8" fill="#e6e214" stroke="#d0ca18" stroke-width="1.1"/>
<circle cx="1352.78" cy="324.11" r="8.8" fill="#e6e214" stroke="#d0ca18" stroke-width="1.1"/>
<circle cx="1385.59" cy="324.11" r="8.8" fill="#0fb912" stroke="#0a9624" stroke-width="1.1"/>
</g>
<g class="sym">
<text class="p" x="72.61" y="132.29">+</text>
<text class="p" x="105.42" y="132.29">+</text>
<text class="p" x="138.24" y="132.29">+</text>
<text class="p" x="171.05" y="132.29">+</text>
<text class="p" x="203.87" y="132.29">+</text>
<text class="p" x="236.68" y="132.29">+</text>
<text class="p" x="269.50" y="132.29">+</text>
<text class="p" x="302.31" y="132.29">+</text>
<text transform="translate(335.52,127.49) rotate(90)" x="3.0" y="1.15" class="m">–</text>
<text class="p" x="367.94" y="132.29">+</text>
<text class="p" x="400.75" y="132.29">+</text>
<text class="p" x="433.57" y="132.29">+</text>
<text class="p" x="466.38" y="132.29">+</text>
<text class="p" x="499.20" y="132.29">+</text>
<text class="p" x="532.01" y="132.29">+</text>
<text class="p" x="564.83" y="132.29">+</text>
<text class="p" x="597.64" y="132.29">+</text>
<text class="p" x="630.46" y="132.29">+</text>
<text class="p" x="663.27" y="132.29">+</text>
<text class="p" x="696.09" y="132.29">+</text>
<text class="p" x="728.90" y="132.29">+</text>
<text class="p" x="761.71" y="132.29">+</text>
<text class="p" x="794.53" y="132.29">+</text>
<text class="p" x="827.34" y="132.29">+</text>
<text class="p" x="860.16" y="132.29">+</text>
<text class="p" x="892.97" y="132.29">+</text>
<text transform="translate(926.19,127.49) rotate(90)" x="3.0" y="1.15" class="m">–</text>
<text class="p" x="958.60" y="132.29">+</text>
<text class="p" x="991.42" y="132.29">+</text>
<text transform="translate(1024.63,127.49) rotate(90)" x="3.0" y="1.15" class="m">–</text>
<text class="p" x="1057.05" y="132.29">+</text>
<text class="p" x="1089.86" y="132.29">+</text>
<text class="p" x="1122.68" y="132.29">+</text>
<text class="p" x="1155.49" y="132.29">+</text>
<text class="p" x="1188.30" y="132.29">+</text>
<text class="p" x="1221.12" y="132.29">+</text>
<text class="p" x="1253.93" y="132.29">+</text>
<text class="p" x="1286.75" y="132.29">+</text>
<text transform="translate(1319.96,127.49) rotate(90)" x="3.0" y="1.15" class="m">–</text>
<text class="p" x="1352.38" y="132.29">+</text>
<text class="p" x="1385.19" y="132.29">+</text>
<text transform="translate(73.01,160.26) rotate(90) scale(1.17,1)" class="q" x="0.5" y="5.2">?</text>
<text transform="translate(105.82,160.26) rotate(90) scale(1.17,1)" class="q" x="0.5" y="5.2">?</text>
<text transform="translate(138.64,160.26) rotate(90) scale(1.17,1)" class="q" x="0.5" y="5.2">?</text>
<text transform="translate(171.45,160.26) rotate(90) scale(1.17,1)" class="q" x="0.5" y="5.2">?</text>
<text transform="translate(204.27,160.26) rotate(90) scale(1.17,1)" class="q" x="0.5" y="5.2">?</text>
<text transform="translate(237.08,160.26) rotate(90) scale(1.17,1)" class="q" x="0.5" y="5.2">?</text>
<text class="p" x="269.50" y="165.06">+</text>
<text transform="translate(302.71,160.26) rotate(90) scale(1.17,1)" class="q" x="0.5" y="5.2">?</text>
<text transform="translate(335.52,160.26) rotate(90) scale(1.17,1)" class="q" x="0.5" y="5.2">?</text>
<text transform="translate(368.34,160.26) rotate(90) scale(1.17,1)" class="q" x="0.5" y="5.2">?</text>
<text transform="translate(401.15,160.26) rotate(90) scale(1.17,1)" class="q" x="0.5" y="5.2">?</text>
<text transform="translate(433.97,160.26) rotate(90) scale(1.17,1)" class="q" x="0.5" y="5.2">?</text>
<text transform="translate(466.78,160.26) rotate(90) scale(1.17,1)" class="q" x="0.5" y="5.2">?</text>
<text transform="translate(499.60,160.26) rotate(90) scale(1.17,1)" class="q" x="0.5" y="5.2">?</text>
<text transform="translate(532.41,160.26) rotate(90) scale(1.17,1)" class="q" x="0.5" y="5.2">?</text>
<text transform="translate(565.23,160.26) rotate(90) scale(1.17,1)" class="q" x="0.5" y="5.2">?</text>
<text transform="translate(598.04,160.26) rotate(90) scale(1.17,1)" class="q" x="0.5" y="5.2">?</text>
<text transform="translate(630.86,160.26) rotate(90) scale(1.17,1)" class="q" x="0.5" y="5.2">?</text>
<text transform="translate(663.67,160.26) rotate(90) scale(1.17,1)" class="q" x="0.5" y="5.2">?</text>
<text transform="translate(696.49,160.26) rotate(90) scale(1.17,1)" class="q" x="0.5" y="5.2">?</text>
<text transform="translate(729.30,160.26) rotate(90) scale(1.17,1)" class="q" x="0.5" y="5.2">?</text>
<text class="p" x="761.71" y="165.06">+</text>
<text transform="translate(794.93,160.26) rotate(90) scale(1.17,1)" class="q" x="0.5" y="5.2">?</text>
<text transform="translate(827.74,160.26) rotate(90) scale(1.17,1)" class="q" x="0.5" y="5.2">?</text>
<text class="p" x="860.16" y="165.06">+</text>
<text transform="translate(893.37,160.26) rotate(90) scale(1.17,1)" class="q" x="0.5" y="5.2">?</text>
<text transform="translate(926.19,160.26) rotate(90) scale(1.17,1)" class="q" x="0.5" y="5.2">?</text>
<text transform="translate(959.00,160.26) rotate(90) scale(1.17,1)" class="q" x="0.5" y="5.2">?</text>
<text transform="translate(991.82,160.26) rotate(90) scale(1.17,1)" class="q" x="0.5" y="5.2">?</text>
<text transform="translate(1024.63,160.26) rotate(90) scale(1.17,1)" class="q" x="0.5" y="5.2">?</text>
<text transform="translate(1057.45,160.26) rotate(90) scale(1.17,1)" class="q" x="0.5" y="5.2">?</text>
<text transform="translate(1090.26,160.26) rotate(90) scale(1.17,1)" class="q" x="0.5" y="5.2">?</text>
<text transform="translate(1123.08,160.26) rotate(90) scale(1.17,1)" class="q" x="0.5" y="5.2">?</text>
<text transform="translate(1155.89,160.26) rotate(90) scale(1.17,1)" class="q" x="0.5" y="5.2">?</text>
<text transform="translate(1188.70,160.26) rotate(90) scale(1.17,1)" class="q" x="0.5" y="5.2">?</text>
<text transform="translate(1221.52,160.26) rotate(90) scale(1.17,1)" class="q" x="0.5" y="5.2">?</text>
<text transform="translate(1254.33,160.26) rotate(90) scale(1.17,1)" class="q" x="0.5" y="5.2">?</text>
<text transform="translate(1287.15,160.26) rotate(90) scale(1.17,1)" class="q" x="0.5" y="5.2">?</text>
<text transform="translate(1319.96,160.26) rotate(90) scale(1.17,1)" class="q" x="0.5" y="5.2">?</text>
<text transform="translate(1352.78,160.26) rotate(90) scale(1.17,1)" class="q" x="0.5" y="5.2">?</text>
<text transform="translate(1385.59,160.26) rotate(90) scale(1.17,1)" class="q" x="0.5" y="5.2">?</text>
<text transform="translate(73.01,193.03) rotate(90)" x="3.0" y="1.15" class="m">–</text>
<text transform="translate(105.82,193.03) rotate(90)" x="3.0" y="1.15" class="m">–</text>
<text transform="translate(138.64,193.03) rotate(90)" x="3.0" y="1.15" class="m">–</text>
<text transform="translate(171.45,193.03) rotate(90)" x="3.0" y="1.15" class="m">–</text>
<text transform="translate(204.27,193.03) rotate(90)" x="3.0" y="1.15" class="m">–</text>
<text transform="translate(237.08,193.03) rotate(90)" x="3.0" y="1.15" class="m">–</text>
<text transform="translate(269.90,193.03) rotate(90)" x="3.0" y="1.15" class="m">–</text>
<text transform="translate(302.71,193.03) rotate(90)" x="3.0" y="1.15" class="m">–</text>
<text transform="translate(335.52,193.03) rotate(90)" x="3.0" y="1.15" class="m">–</text>
<text transform="translate(368.34,193.03) rotate(90)" x="3.0" y="1.15" class="m">–</text>
<text transform="translate(401.15,193.03) rotate(90)" x="3.0" y="1.15" class="m">–</text>
<text transform="translate(433.97,193.03) rotate(90)" x="3.0" y="1.15" class="m">–</text>
<text transform="translate(466.78,193.03) rotate(90)" x="3.0" y="1.15" class="m">–</text>
<text transform="translate(499.60,193.03) rotate(90)" x="3.0" y="1.15" class="m">–</text>
<text transform="translate(532.41,193.03) rotate(90)" x="3.0" y="1.15" class="m">–</text>
<text transform="translate(565.23,193.03) rotate(90)" x="3.0" y="1.15" class="m">–</text>
<text transform="translate(598.04,193.03) rotate(90)" x="3.0" y="1.15" class="m">–</text>
<text transform="translate(630.86,193.03) rotate(90)" x="3.0" y="1.15" class="m">–</text>
<text transform="translate(663.67,193.03) rotate(90)" x="3.0" y="1.15" class="m">–</text>
<text transform="translate(696.49,193.03) rotate(90)" x="3.0" y="1.15" class="m">–</text>
<text transform="translate(729.30,193.03) rotate(90)" x="3.0" y="1.15" class="m">–</text>
<text transform="translate(762.11,193.03) rotate(90)" x="3.0" y="1.15" class="m">–</text>
<text transform="translate(794.93,193.03) rotate(90)" x="3.0" y="1.15" class="m">–</text>
<text transform="translate(827.74,193.03) rotate(90)" x="3.0" y="1.15" class="m">–</text>
<text transform="translate(860.56,193.03) rotate(90)" x="3.0" y="1.15" class="m">–</text>
<text transform="translate(893.37,193.03) rotate(90)" x="3.0" y="1.15" class="m">–</text>
<text transform="translate(926.19,193.03) rotate(90)" x="3.0" y="1.15" class="m">–</text>
<text transform="translate(959.00,193.03) rotate(90)" x="3.0" y="1.15" class="m">–</text>
<text transform="translate(991.82,193.03) rotate(90)" x="3.0" y="1.15" class="m">–</text>
<text transform="translate(1024.63,193.03) rotate(90)" x="3.0" y="1.15" class="m">–</text>
<text transform="translate(1057.45,193.03) rotate(90)" x="3.0" y="1.15" class="m">–</text>
<text transform="translate(1090.26,193.03) rotate(90)" x="3.0" y="1.15" class="m">–</text>
<text class="p" x="1122.68" y="197.83">+</text>
<text transform="translate(1155.89,193.03) rotate(90)" x="3.0" y="1.15" class="m">–</text>
<text transform="translate(1188.70,193.03) rotate(90)" x="3.0" y="1.15" class="m">–</text>
<text transform="translate(1221.52,193.03) rotate(90)" x="3.0" y="1.15" class="m">–</text>
<text transform="translate(1254.33,193.03) rotate(90)" x="3.0" y="1.15" class="m">–</text>
<text transform="translate(1287.15,193.03) rotate(90)" x="3.0" y="1.15" class="m">–</text>
<text transform="translate(1319.96,193.03) rotate(90)" x="3.0" y="1.15" class="m">–</text>
<text transform="translate(1352.78,193.03) rotate(90)" x="3.0" y="1.15" class="m">–</text>
<text transform="translate(1385.59,193.03) rotate(90)" x="3.0" y="1.15" class="m">–</text>
<text class="p" x="72.61" y="230.60">+</text>
<text transform="translate(105.82,225.80) rotate(90) scale(1.17,1)" class="q" x="0.5" y="5.2">?</text>
<text transform="translate(138.64,225.80) rotate(90) scale(1.17,1)" class="q" x="0.5" y="5.2">?</text>
<text transform="translate(171.45,225.80) rotate(90) scale(1.17,1)" class="q" x="0.5" y="5.2">?</text>
<text transform="translate(204.27,225.80) rotate(90) scale(1.17,1)" class="q" x="0.5" y="5.2">?</text>
<text transform="translate(237.08,225.80) rotate(90) scale(1.17,1)" class="q" x="0.5" y="5.2">?</text>
<text transform="translate(269.90,225.80) rotate(90) scale(1.17,1)" class="q" x="0.5" y="5.2">?</text>
<text transform="translate(302.71,225.80) rotate(90) scale(1.17,1)" class="q" x="0.5" y="5.2">?</text>
<text transform="translate(335.52,225.80) rotate(90) scale(1.17,1)" class="q" x="0.5" y="5.2">?</text>
<text transform="translate(368.34,225.80) rotate(90) scale(1.17,1)" class="q" x="0.5" y="5.2">?</text>
<text transform="translate(401.15,225.80) rotate(90) scale(1.17,1)" class="q" x="0.5" y="5.2">?</text>
<text transform="translate(433.97,225.80) rotate(90) scale(1.17,1)" class="q" x="0.5" y="5.2">?</text>
<text transform="translate(466.78,225.80) rotate(90) scale(1.17,1)" class="q" x="0.5" y="5.2">?</text>
<text transform="translate(499.60,225.80) rotate(90) scale(1.17,1)" class="q" x="0.5" y="5.2">?</text>
<text transform="translate(532.41,225.80) rotate(90) scale(1.17,1)" class="q" x="0.5" y="5.2">?</text>
<text transform="translate(565.23,225.80) rotate(90) scale(1.17,1)" class="q" x="0.5" y="5.2">?</text>
<text transform="translate(598.04,225.80) rotate(90) scale(1.17,1)" class="q" x="0.5" y="5.2">?</text>
<text transform="translate(630.86,225.80) rotate(90) scale(1.17,1)" class="q" x="0.5" y="5.2">?</text>
<text transform="translate(663.67,225.80) rotate(90) scale(1.17,1)" class="q" x="0.5" y="5.2">?</text>
<text transform="translate(696.49,225.80) rotate(90) scale(1.17,1)" class="q" x="0.5" y="5.2">?</text>
<text transform="translate(729.30,225.80) rotate(90) scale(1.17,1)" class="q" x="0.5" y="5.2">?</text>
<text transform="translate(762.11,225.80) rotate(90) scale(1.17,1)" class="q" x="0.5" y="5.2">?</text>
<text transform="translate(794.93,225.80) rotate(90) scale(1.17,1)" class="q" x="0.5" y="5.2">?</text>
<text transform="translate(827.74,225.80) rotate(90) scale(1.17,1)" class="q" x="0.5" y="5.2">?</text>
<text transform="translate(860.56,225.80) rotate(90) scale(1.17,1)" class="q" x="0.5" y="5.2">?</text>
<text transform="translate(893.37,225.80) rotate(90) scale(1.17,1)" class="q" x="0.5" y="5.2">?</text>
<text transform="translate(926.19,225.80) rotate(90) scale(1.17,1)" class="q" x="0.5" y="5.2">?</text>
<text transform="translate(959.00,225.80) rotate(90) scale(1.17,1)" class="q" x="0.5" y="5.2">?</text>
<text transform="translate(991.82,225.80) rotate(90) scale(1.17,1)" class="q" x="0.5" y="5.2">?</text>
<text transform="translate(1024.63,225.80) rotate(90) scale(1.17,1)" class="q" x="0.5" y="5.2">?</text>
<text transform="translate(1057.45,225.80) rotate(90) scale(1.17,1)" class="q" x="0.5" y="5.2">?</text>
<text transform="translate(1090.26,225.80) rotate(90) scale(1.17,1)" class="q" x="0.5" y="5.2">?</text>
<text class="p" x="1122.68" y="230.60">+</text>
<text transform="translate(1155.89,225.80) rotate(90) scale(1.17,1)" class="q" x="0.5" y="5.2">?</text>
<text transform="translate(1188.70,225.80) rotate(90) scale(1.17,1)" class="q" x="0.5" y="5.2">?</text>
<text transform="translate(1221.52,225.80) rotate(90) scale(1.17,1)" class="q" x="0.5" y="5.2">?</text>
<text transform="translate(1254.33,225.80) rotate(90) scale(1.17,1)" class="q" x="0.5" y="5.2">?</text>
<text transform="translate(1287.15,225.80) rotate(90) scale(1.17,1)" class="q" x="0.5" y="5.2">?</text>
<text transform="translate(1319.96,225.80) rotate(90) scale(1.17,1)" class="q" x="0.5" y="5.2">?</text>
<text transform="translate(1352.78,225.80) rotate(90) scale(1.17,1)" class="q" x="0.5" y="5.2">?</text>
<text transform="translate(1385.59,225.80) rotate(90) scale(1.17,1)" class="q" x="0.5" y="5.2">?</text>
<text class="p" x="72.61" y="263.37">+</text>
<text class="p" x="105.42" y="263.37">+</text>
<text class="p" x="138.24" y="263.37">+</text>
<text class="p" x="171.05" y="263.37">+</text>
<text class="p" x="203.87" y="263.37">+</text>
<text class="p" x="236.68" y="263.37">+</text>
<text class="p" x="269.50" y="263.37">+</text>
<text class="p" x="302.31" y="263.37">+</text>
<text class="p" x="335.12" y="263.37">+</text>
<text class="p" x="367.94" y="263.37">+</text>
<text class="p" x="400.75" y="263.37">+</text>
<text class="p" x="433.57" y="263.37">+</text>
<text class="p" x="466.38" y="263.37">+</text>
<text class="p" x="499.20" y="263.37">+</text>
<text class="p" x="532.01" y="263.37">+</text>
<text class="p" x="564.83" y="263.37">+</text>
<text class="p" x="597.64" y="263.37">+</text>
<text class="p" x="630.46" y="263.37">+</text>
<text class="p" x="663.27" y="263.37">+</text>
<text class="p" x="696.09" y="263.37">+</text>
<text class="p" x="728.90" y="263.37">+</text>
<text class="p" x="761.71" y="263.37">+</text>
<text class="p" x="794.53" y="263.37">+</text>
<text class="p" x="827.34" y="263.37">+</text>
<text class="p" x="860.16" y="263.37">+</text>
<text class="p" x="892.97" y="263.37">+</text>
<text class="p" x="925.79" y="263.37">+</text>
<text class="p" x="958.60" y="263.37">+</text>
<text class="p" x="991.42" y="263.37">+</text>
<text class="p" x="1024.23" y="263.37">+</text>
<text class="p" x="1057.05" y="263.37">+</text>
<text class="p" x="1089.86" y="263.37">+</text>
<text class="p" x="1122.68" y="263.37">+</text>
<text class="p" x="1155.49" y="263.37">+</text>
<text class="p" x="1188.30" y="263.37">+</text>
<text class="p" x="1221.12" y="263.37">+</text>
<text class="p" x="1253.93" y="263.37">+</text>
<text class="p" x="1286.75" y="263.37">+</text>
<text class="p" x="1319.56" y="263.37">+</text>
<text class="p" x="1352.38" y="263.37">+</text>
<text class="p" x="1385.19" y="263.37">+</text>
<text class="p" x="72.61" y="296.14">+</text>
<text class="p" x="105.42" y="296.14">+</text>
<text class="p" x="138.24" y="296.14">+</text>
<text class="p" x="171.05" y="296.14">+</text>
<text class="p" x="203.87" y="296.14">+</text>
<text class="p" x="236.68" y="296.14">+</text>
<text class="p" x="269.50" y="296.14">+</text>
<text class="p" x="302.31" y="296.14">+</text>
<text class="p" x="335.12" y="296.14">+</text>
<text class="p" x="367.94" y="296.14">+</text>
<text class="p" x="400.75" y="296.14">+</text>
<text class="p" x="433.57" y="296.14">+</text>
<text class="p" x="466.38" y="296.14">+</text>
<text class="p" x="499.20" y="296.14">+</text>
<text class="p" x="532.01" y="296.14">+</text>
<text class="p" x="564.83" y="296.14">+</text>
<text class="p" x="597.64" y="296.14">+</text>
<text class="p" x="630.46" y="296.14">+</text>
<text class="p" x="663.27" y="296.14">+</text>
<text class="p" x="696.09" y="296.14">+</text>
<text class="p" x="728.90" y="296.14">+</text>
<text class="p" x="761.71" y="296.14">+</text>
<text class="p" x="794.53" y="296.14">+</text>
<text class="p" x="827.34" y="296.14">+</text>
<text class="p" x="860.16" y="296.14">+</text>
<text class="p" x="892.97" y="296.14">+</text>
<text class="p" x="925.79" y="296.14">+</text>
<text class="p" x="958.60" y="296.14">+</text>
<text class="p" x="991.42" y="296.14">+</text>
<text class="p" x="1024.23" y="296.14">+</text>
<text class="p" x="1057.05" y="296.14">+</text>
<text class="p" x="1089.86" y="296.14">+</text>
<text class="p" x="1122.68" y="296.14">+</text>
<text class="p" x="1155.49" y="296.14">+</text>
<text class="p" x="1188.30" y="296.14">+</text>
<text class="p" x="1221.12" y="296.14">+</text>
<text class="p" x="1253.93" y="296.14">+</text>
<text class="p" x="1286.75" y="296.14">+</text>
<text class="p" x="1319.56" y="296.14">+</text>
<text class="p" x="1352.38" y="296.14">+</text>
<text class="p" x="1385.19" y="296.14">+</text>
<text class="p" x="72.61" y="328.91">+</text>
<text transform="translate(105.82,324.11) rotate(90) scale(1.17,1)" class="q" x="0.5" y="5.2">?</text>
<text transform="translate(138.64,324.11) rotate(90) scale(1.17,1)" class="q" x="0.5" y="5.2">?</text>
<text transform="translate(171.45,324.11) rotate(90) scale(1.17,1)" class="q" x="0.5" y="5.2">?</text>
<text transform="translate(204.27,324.11) rotate(90) scale(1.17,1)" class="q" x="0.5" y="5.2">?</text>
<text transform="translate(237.08,324.11) rotate(90) scale(1.17,1)" class="q" x="0.5" y="5.2">?</text>
<text class="p" x="269.50" y="328.91">+</text>
<text transform="translate(302.71,324.11) rotate(90) scale(1.17,1)" class="q" x="0.5" y="5.2">?</text>
<text transform="translate(335.52,324.11) rotate(90) scale(1.17,1)" class="q" x="0.5" y="5.2">?</text>
<text transform="translate(368.34,324.11) rotate(90) scale(1.17,1)" class="q" x="0.5" y="5.2">?</text>
<text transform="translate(401.15,324.11) rotate(90) scale(1.17,1)" class="q" x="0.5" y="5.2">?</text>
<text transform="translate(433.97,324.11) rotate(90) scale(1.17,1)" class="q" x="0.5" y="5.2">?</text>
<text transform="translate(466.78,324.11) rotate(90) scale(1.17,1)" class="q" x="0.5" y="5.2">?</text>
<text transform="translate(499.60,324.11) rotate(90) scale(1.17,1)" class="q" x="0.5" y="5.2">?</text>
<text transform="translate(532.41,324.11) rotate(90) scale(1.17,1)" class="q" x="0.5" y="5.2">?</text>
<text transform="translate(565.23,324.11) rotate(90) scale(1.17,1)" class="q" x="0.5" y="5.2">?</text>
<text transform="translate(598.04,324.11) rotate(90)" x="3.0" y="1.15" class="m">–</text>
<text transform="translate(630.86,324.11) rotate(90) scale(1.17,1)" class="q" x="0.5" y="5.2">?</text>
<text transform="translate(663.67,324.11) rotate(90) scale(1.17,1)" class="q" x="0.5" y="5.2">?</text>
<text transform="translate(696.49,324.11) rotate(90) scale(1.17,1)" class="q" x="0.5" y="5.2">?</text>
<text class="p" x="728.90" y="328.91">+</text>
<text class="p" x="761.71" y="328.91">+</text>
<text transform="translate(794.93,324.11) rotate(90) scale(1.17,1)" class="q" x="0.5" y="5.2">?</text>
<text transform="translate(827.74,324.11) rotate(90) scale(1.17,1)" class="q" x="0.5" y="5.2">?</text>
<text class="p" x="860.16" y="328.91">+</text>
<text class="p" x="892.97" y="328.91">+</text>
<text transform="translate(926.19,324.11) rotate(90) scale(1.17,1)" class="q" x="0.5" y="5.2">?</text>
<text transform="translate(959.00,324.11) rotate(90) scale(1.17,1)" class="q" x="0.5" y="5.2">?</text>
<text transform="translate(991.82,324.11) rotate(90) scale(1.17,1)" class="q" x="0.5" y="5.2">?</text>
<text transform="translate(1024.63,324.11) rotate(90) scale(1.17,1)" class="q" x="0.5" y="5.2">?</text>
<text transform="translate(1057.45,324.11) rotate(90) scale(1.17,1)" class="q" x="0.5" y="5.2">?</text>
<text transform="translate(1090.26,324.11) rotate(90) scale(1.17,1)" class="q" x="0.5" y="5.2">?</text>
<text class="p" x="1122.68" y="328.91">+</text>
<text class="p" x="1155.49" y="328.91">+</text>
<text transform="translate(1188.70,324.11) rotate(90) scale(1.17,1)" class="q" x="0.5" y="5.2">?</text>
<text transform="translate(1221.52,324.11) rotate(90) scale(1.17,1)" class="q" x="0.5" y="5.2">?</text>
<text transform="translate(1254.33,324.11) rotate(90) scale(1.17,1)" class="q" x="0.5" y="5.2">?</text>
<text transform="translate(1287.15,324.11) rotate(90) scale(1.17,1)" class="q" x="0.5" y="5.2">?</text>
<text transform="translate(1319.96,324.11) rotate(90) scale(1.17,1)" class="q" x="0.5" y="5.2">?</text>
<text transform="translate(1352.78,324.11) rotate(90) scale(1.17,1)" class="q" x="0.5" y="5.2">?</text>
<text class="p" x="1385.19" y="328.91">+</text>
</g>
<g stroke="#000" stroke-width="1.6" fill="none">
<path d="M56.60 110.32V341.27M89.41 110.32V341.27M122.23 110.32V341.27M155.04 110.32V341.27M187.86 110.32V341.27M220.67 110.32V341.27M253.49 110.32V341.27M286.30 110.32V341.27M319.12 110.32V341.27M351.93 110.32V341.27M384.75 110.32V341.27M417.56 110.32V341.27M450.38 110.32V341.27M483.19 110.32V341.27M516.00 110.32V341.27M548.82 110.32V341.27M581.63 110.32V341.27M614.45 110.32V341.27M647.26 110.32V341.27M680.08 110.32V341.27M712.89 110.32V341.27M745.71 110.32V341.27M778.52 110.32V341.27M811.34 110.32V341.27M844.15 110.32V341.27M876.97 110.32V341.27M909.78 110.32V341.27M942.60 110.32V341.27M975.41 110.32V341.27M1008.22 110.32V341.27M1041.04 110.32V341.27M1073.85 110.32V341.27M1106.67 110.32V341.27M1139.48 110.32V341.27M1172.30 110.32V341.27M1205.11 110.32V341.27M1237.93 110.32V341.27M1270.74 110.32V341.27M1303.56 110.32V341.27M1336.37 110.32V341.27M1369.19 110.32V341.27M1402.00 110.32V341.27M55.83 111.10H1402.78M55.83 143.87H1402.78M55.83 176.64H1402.78M55.83 209.41H1402.78M55.83 242.19H1402.78M55.83 274.96H1402.78M55.83 307.73H1402.78M55.83 340.50H1402.78"/>
</g>
<g class="d">
<text x="1408.3" y="131.29">Random sequence generation (selection bias)</text>
<text x="1408.3" y="164.06">Allocation concealment (selection bias)</text>
<text x="1408.3" y="196.83">Blinding of participants and personnel (performance bias)</text>
<text x="1408.3" y="229.60">Blinding of outcome assessment (detection bias)</text>
<text x="1408.3" y="262.37">Incomplete outcome data (attrition bias)</text>
<text x="1408.3" y="295.14">Selective reporting (reporting bias)</text>
<text x="1408.3" y="327.91">Other bias</text>
</g>
<rect x="47.4" y="395.3" width="1268.2" height="534.2" fill="none" stroke="#000" stroke-width="2.3"/>
<rect x="752.00" y="416.80" width="489.10" height="38.50" fill="#00be00"/>
<rect x="1241.10" y="416.80" width="53.10" height="38.50" fill="#be0000"/>
<rect x="751.55" y="416.35" width="543.10" height="39.40" fill="none" stroke="#000" stroke-width="1.9"/>
<rect x="752.00" y="469.40" width="40.20" height="38.50" fill="#00be00"/>
<rect x="792.20" y="469.40" width="502.00" height="38.50" fill="#e2e200"/>
<rect x="751.55" y="468.95" width="543.10" height="39.40" fill="none" stroke="#000" stroke-width="1.9"/>
<rect x="752.00" y="521.90" width="15.30" height="38.50" fill="#00be00"/>
<rect x="767.30" y="521.90" width="526.90" height="38.50" fill="#be0000"/>
<rect x="751.55" y="521.45" width="543.10" height="39.40" fill="none" stroke="#000" stroke-width="1.9"/>
<rect x="752.00" y="574.30" width="27.40" height="38.50" fill="#00be00"/>
<rect x="779.40" y="574.30" width="514.80" height="38.50" fill="#e2e200"/>
<rect x="751.55" y="573.85" width="543.10" height="39.40" fill="none" stroke="#000" stroke-width="1.9"/>
<rect x="752.00" y="626.60" width="542.20" height="38.50" fill="#00be00"/>
<rect x="751.55" y="626.15" width="543.10" height="39.40" fill="none" stroke="#000" stroke-width="1.9"/>
<rect x="752.00" y="679.00" width="542.20" height="38.50" fill="#00be00"/>
<rect x="751.55" y="678.55" width="543.10" height="39.40" fill="none" stroke="#000" stroke-width="1.9"/>
<rect x="752.00" y="731.20" width="120.00" height="38.50" fill="#00be00"/>
<rect x="872.00" y="731.20" width="409.10" height="38.50" fill="#e2e200"/>
<rect x="1281.10" y="731.20" width="13.10" height="38.50" fill="#be0000"/>
<rect x="751.55" y="730.75" width="543.10" height="39.40" fill="none" stroke="#000" stroke-width="1.9"/>
<g class="b" text-anchor="end">
<text x="706.9" y="455.2">Random sequence generation (selection bias)</text>
<text x="714.2" y="507.5">Allocation concealment (selection bias)</text>
<text x="705.3" y="559.5">Blinding of participants and personnel (performance bias)</text>
<text x="705.3" y="612.0">Blinding of outcome assessment (detection bias)</text>
<text x="717.2" y="664.8">Incomplete outcome data (attrition bias)</text>
<text x="720.3" y="717.3">Selective reporting (reporting bias)</text>
<text x="725.9" y="769.6">Other bias</text>
</g>
<path d="M750.6 798.3H1293.4M750.60 790.1V806.9M886.30 790.1V806.9M1022.00 790.1V806.9M1157.70 790.1V806.9M1293.40 790.1V806.9" stroke="#000" stroke-width="2.4" fill="none"/>
<g class="b">
<text x="750.8" y="833.0">0%</text>
<text x="885.8" y="833.0" text-anchor="middle">25%</text>
<text x="1021.4" y="833.0" text-anchor="middle">50%</text>
<text x="1157.4" y="833.0" text-anchor="middle">75%</text>
<text x="1293.0" y="833.0" text-anchor="end">100%</text>
</g>
<rect x="68.4" y="846.0" width="1228.5" height="64.4" fill="none" stroke="#000" stroke-width="2.3"/>
<rect x="89.2" y="860.1" width="33.9" height="33.9" fill="#00be00" stroke="#000" stroke-width="2"/>
<text class="b" x="130.1" y="889.1">Low risk of bias</text>
<rect x="483.5" y="860.1" width="33.9" height="33.9" fill="#e2e200" stroke="#000" stroke-width="2"/>
<text class="b" x="524.4" y="889.1">Unclear risk of bias</text>
<rect x="877.4" y="860.1" width="33.9" height="33.9" fill="#be0000" stroke="#000" stroke-width="2"/>
<text class="b" x="918.3" y="889.1">High risk of bias</text>
</svg>
</body></html>
